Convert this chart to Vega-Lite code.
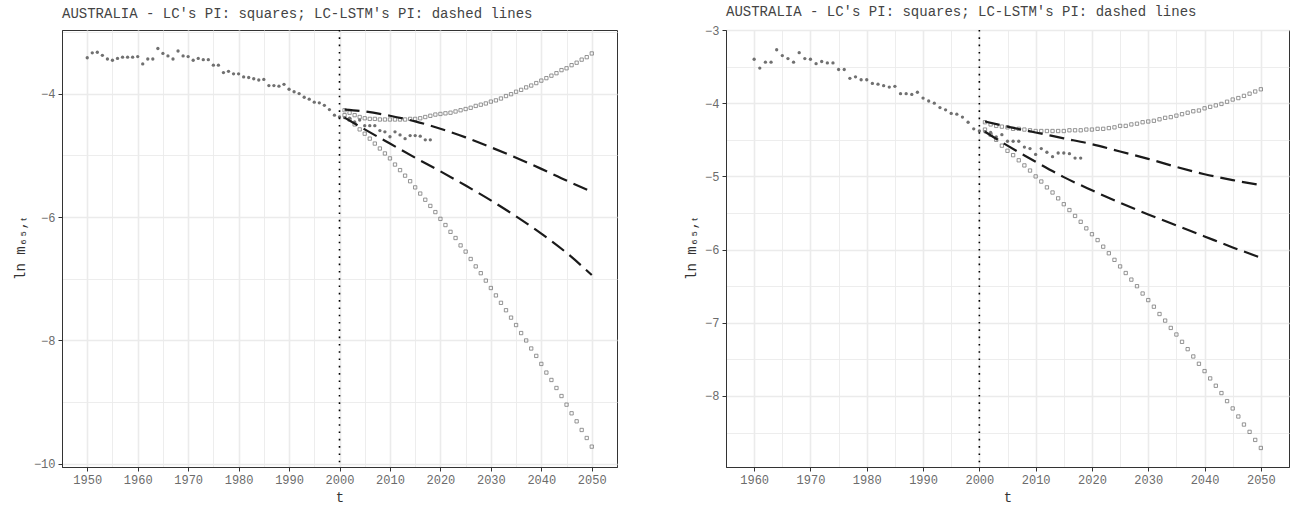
{
  "$schema": "https://vega.github.io/schema/vega-lite/v6.json",
  "background": "white",
  "padding": {"left": 12, "top": 4, "right": 0, "bottom": 0},
  "spacing": 66,
  "resolve": {"scale": {"x": "independent", "y": "independent"}, "axis": {"x": "independent", "y": "independent"}},
  "config": {
    "font": "Liberation Mono",
    "view": {"stroke": "#333333", "strokeWidth": 1},
    "axis": {
      "labelFont": "Liberation Mono", "labelFontSize": 12, "labelColor": "#6b6b6b",
      "titleFont": "Liberation Mono", "titleFontSize": 14, "titleFontWeight": "normal", "titleColor": "#333333",
      "tickColor": "#333333", "tickSize": 4, "labelPadding": 3, "domainColor": "#333333",
      "gridColor": "#EBEBEB", "labelOverlap": false, "labelFlush": false, "tickCount": 100
    },
    "title": {"font": "Liberation Mono", "fontSize": 14, "fontWeight": "normal", "color": "#444444", "anchor": "start", "frame": "group", "offset": 5}
  },
  "datasets": {
    "obs": [
      {"t":1950,"v":-3.42},{"t":1951,"v":-3.34},{"t":1952,"v":-3.33},{"t":1953,"v":-3.38},{"t":1954,"v":-3.44},
      {"t":1955,"v":-3.46},{"t":1956,"v":-3.43},{"t":1957,"v":-3.41},{"t":1958,"v":-3.41},{"t":1959,"v":-3.41},
      {"t":1960,"v":-3.40},{"t":1961,"v":-3.52},{"t":1962,"v":-3.44},{"t":1963,"v":-3.44},{"t":1964,"v":-3.27},
      {"t":1965,"v":-3.35},{"t":1966,"v":-3.39},{"t":1967,"v":-3.44},{"t":1968,"v":-3.31},{"t":1969,"v":-3.39},
      {"t":1970,"v":-3.40},{"t":1971,"v":-3.46},{"t":1972,"v":-3.43},{"t":1973,"v":-3.45},{"t":1974,"v":-3.45},
      {"t":1975,"v":-3.54},{"t":1976,"v":-3.54},{"t":1977,"v":-3.66},{"t":1978,"v":-3.64},{"t":1979,"v":-3.68},
      {"t":1980,"v":-3.68},{"t":1981,"v":-3.73},{"t":1982,"v":-3.74},{"t":1983,"v":-3.76},{"t":1984,"v":-3.78},
      {"t":1985,"v":-3.77},{"t":1986,"v":-3.87},{"t":1987,"v":-3.87},{"t":1988,"v":-3.88},{"t":1989,"v":-3.85},
      {"t":1990,"v":-3.93},{"t":1991,"v":-3.97},{"t":1992,"v":-4.00},{"t":1993,"v":-4.06},{"t":1994,"v":-4.09},
      {"t":1995,"v":-4.14},{"t":1996,"v":-4.15},{"t":1997,"v":-4.19},{"t":1998,"v":-4.26},{"t":1999,"v":-4.35},
      {"t":2000,"v":-4.38},{"t":2001,"v":-4.39},{"t":2002,"v":-4.40},{"t":2003,"v":-4.46},{"t":2004,"v":-4.43},
      {"t":2005,"v":-4.52},{"t":2006,"v":-4.52},{"t":2007,"v":-4.52},{"t":2008,"v":-4.60},{"t":2009,"v":-4.62},
      {"t":2010,"v":-4.70},{"t":2011,"v":-4.62},{"t":2012,"v":-4.67},{"t":2013,"v":-4.73},{"t":2014,"v":-4.68},
      {"t":2015,"v":-4.68},{"t":2016,"v":-4.69},{"t":2017,"v":-4.75},{"t":2018,"v":-4.75}
    ],
    "lcA": [
      {"t":2001,"hi":-4.27,"lo":-4.35},{"t":2002,"hi":-4.31,"lo":-4.42},{"t":2003,"hi":-4.35,"lo":-4.50},
      {"t":2004,"hi":-4.38,"lo":-4.58},{"t":2005,"hi":-4.40,"lo":-4.65},{"t":2006,"hi":-4.41,"lo":-4.73},
      {"t":2007,"hi":-4.41,"lo":-4.81},{"t":2008,"hi":-4.42,"lo":-4.89},{"t":2009,"hi":-4.42,"lo":-4.97},
      {"t":2010,"hi":-4.42,"lo":-5.05},{"t":2011,"hi":-4.42,"lo":-5.15},{"t":2012,"hi":-4.42,"lo":-5.24},
      {"t":2013,"hi":-4.42,"lo":-5.33},{"t":2014,"hi":-4.41,"lo":-5.42},{"t":2015,"hi":-4.41,"lo":-5.52},
      {"t":2016,"hi":-4.40,"lo":-5.62},{"t":2017,"hi":-4.38,"lo":-5.72},{"t":2018,"hi":-4.36,"lo":-5.82},
      {"t":2019,"hi":-4.34,"lo":-5.92},{"t":2020,"hi":-4.33,"lo":-6.03},{"t":2021,"hi":-4.32,"lo":-6.13},
      {"t":2022,"hi":-4.31,"lo":-6.24},{"t":2023,"hi":-4.29,"lo":-6.34},{"t":2024,"hi":-4.27,"lo":-6.46},
      {"t":2025,"hi":-4.25,"lo":-6.56},{"t":2026,"hi":-4.23,"lo":-6.68},{"t":2027,"hi":-4.20,"lo":-6.80},
      {"t":2028,"hi":-4.18,"lo":-6.91},{"t":2029,"hi":-4.16,"lo":-7.03},{"t":2030,"hi":-4.13,"lo":-7.15},
      {"t":2031,"hi":-4.11,"lo":-7.27},{"t":2032,"hi":-4.08,"lo":-7.39},{"t":2033,"hi":-4.04,"lo":-7.51},
      {"t":2034,"hi":-4.01,"lo":-7.63},{"t":2035,"hi":-3.97,"lo":-7.75},{"t":2036,"hi":-3.94,"lo":-7.88},
      {"t":2037,"hi":-3.90,"lo":-8.00},{"t":2038,"hi":-3.87,"lo":-8.13},{"t":2039,"hi":-3.83,"lo":-8.25},
      {"t":2040,"hi":-3.79,"lo":-8.38},{"t":2041,"hi":-3.75,"lo":-8.52},{"t":2042,"hi":-3.71,"lo":-8.64},
      {"t":2043,"hi":-3.67,"lo":-8.77},{"t":2044,"hi":-3.62,"lo":-8.90},{"t":2045,"hi":-3.59,"lo":-9.04},
      {"t":2046,"hi":-3.54,"lo":-9.18},{"t":2047,"hi":-3.50,"lo":-9.31},{"t":2048,"hi":-3.45,"lo":-9.45},
      {"t":2049,"hi":-3.41,"lo":-9.58},{"t":2050,"hi":-3.35,"lo":-9.72}
    ],
    "lcB": [
      {"t":2001,"hi":-4.26,"lo":-4.36},{"t":2002,"hi":-4.29,"lo":-4.43},{"t":2003,"hi":-4.31,"lo":-4.50},
      {"t":2004,"hi":-4.32,"lo":-4.58},{"t":2005,"hi":-4.33,"lo":-4.65},{"t":2006,"hi":-4.35,"lo":-4.71},
      {"t":2007,"hi":-4.35,"lo":-4.78},{"t":2008,"hi":-4.36,"lo":-4.85},{"t":2009,"hi":-4.37,"lo":-4.92},
      {"t":2010,"hi":-4.38,"lo":-5.00},{"t":2011,"hi":-4.38,"lo":-5.07},{"t":2012,"hi":-4.38,"lo":-5.15},
      {"t":2013,"hi":-4.38,"lo":-5.22},{"t":2014,"hi":-4.38,"lo":-5.30},{"t":2015,"hi":-4.38,"lo":-5.38},
      {"t":2016,"hi":-4.37,"lo":-5.46},{"t":2017,"hi":-4.37,"lo":-5.54},{"t":2018,"hi":-4.37,"lo":-5.62},
      {"t":2019,"hi":-4.36,"lo":-5.71},{"t":2020,"hi":-4.36,"lo":-5.79},{"t":2021,"hi":-4.35,"lo":-5.87},
      {"t":2022,"hi":-4.35,"lo":-5.96},{"t":2023,"hi":-4.34,"lo":-6.05},{"t":2024,"hi":-4.33,"lo":-6.14},
      {"t":2025,"hi":-4.31,"lo":-6.23},{"t":2026,"hi":-4.31,"lo":-6.32},{"t":2027,"hi":-4.29,"lo":-6.41},
      {"t":2028,"hi":-4.28,"lo":-6.50},{"t":2029,"hi":-4.26,"lo":-6.60},{"t":2030,"hi":-4.25,"lo":-6.69},
      {"t":2031,"hi":-4.24,"lo":-6.78},{"t":2032,"hi":-4.22,"lo":-6.88},{"t":2033,"hi":-4.20,"lo":-6.97},
      {"t":2034,"hi":-4.19,"lo":-7.07},{"t":2035,"hi":-4.17,"lo":-7.16},{"t":2036,"hi":-4.15,"lo":-7.26},
      {"t":2037,"hi":-4.13,"lo":-7.36},{"t":2038,"hi":-4.11,"lo":-7.46},{"t":2039,"hi":-4.10,"lo":-7.56},
      {"t":2040,"hi":-4.07,"lo":-7.66},{"t":2041,"hi":-4.05,"lo":-7.76},{"t":2042,"hi":-4.03,"lo":-7.86},
      {"t":2043,"hi":-4.01,"lo":-7.96},{"t":2044,"hi":-3.98,"lo":-8.07},{"t":2045,"hi":-3.95,"lo":-8.17},
      {"t":2046,"hi":-3.93,"lo":-8.28},{"t":2047,"hi":-3.90,"lo":-8.39},{"t":2048,"hi":-3.87,"lo":-8.49},
      {"t":2049,"hi":-3.84,"lo":-8.60},{"t":2050,"hi":-3.81,"lo":-8.71}
    ],
    "lstmA": [
      {"t":2001,"hi":-4.26,"lo":-4.39},{"t":2005,"hi":-4.29,"lo":-4.58},{"t":2010,"hi":-4.36,"lo":-4.81},
      {"t":2015,"hi":-4.45,"lo":-5.04},{"t":2020,"hi":-4.57,"lo":-5.26},{"t":2025,"hi":-4.71,"lo":-5.49},
      {"t":2030,"hi":-4.87,"lo":-5.73},{"t":2035,"hi":-5.04,"lo":-5.99},{"t":2040,"hi":-5.22,"lo":-6.27},
      {"t":2045,"hi":-5.41,"lo":-6.58},{"t":2050,"hi":-5.59,"lo":-6.94}
    ],
    "lstmB": [
      {"t":2001,"hi":-4.25,"lo":-4.39},{"t":2005,"hi":-4.32,"lo":-4.58},{"t":2010,"hi":-4.40,"lo":-4.80},
      {"t":2015,"hi":-4.48,"lo":-5.01},{"t":2020,"hi":-4.56,"lo":-5.19},{"t":2025,"hi":-4.66,"lo":-5.36},
      {"t":2030,"hi":-4.76,"lo":-5.52},{"t":2035,"hi":-4.87,"lo":-5.67},{"t":2040,"hi":-4.97,"lo":-5.82},
      {"t":2045,"hi":-5.05,"lo":-5.97},{"t":2050,"hi":-5.12,"lo":-6.11}
    ],
    "vline": [{"t":2000}]
  },
  "hconcat": [
    {
      "title": "AUSTRALIA - LC's PI: squares; LC-LSTM's PI: dashed lines",
      "width": 555,
      "height": 437,
      "encoding": {
        "x": {"field": "t", "type": "quantitative", "title": "t",
          "scale": {"domain": [1945, 2055], "nice": false, "zero": false},
          "axis": {"values": [1950,1955,1960,1965,1970,1975,1980,1985,1990,1995,2000,2005,2010,2015,2020,2025,2030,2035,2040,2045,2050],
            "format": "d", "labelExpr": "datum.value % 10 === 0 ? datum.label : ''",
            "tickOpacity": {"condition": {"test": "datum.value % 10 === 0", "value": 1}, "value": 0},
            "gridWidth": {"condition": {"test": "datum.value % 10 === 0", "value": 1.6}, "value": 0.9},
            "titlePadding": 5}
        }
      },
      "layer": [
        {"data": {"name": "obs"},
         "mark": {"type": "point", "shape": "circle", "filled": true, "size": 11, "color": "#707070", "opacity": 1},
         "encoding": {"y": {"field": "v", "type": "quantitative", "title": "ln m₆₅,ₜ",
           "scale": {"domain": [-10.05, -2.97], "nice": false, "zero": false},
           "axis": {"values": [-10,-9,-8,-7,-6,-5,-4,-3], "format": "d",
             "labelExpr": "datum.value % 2 === 0 ? datum.label : ''",
             "tickOpacity": {"condition": {"test": "datum.value % 2 === 0", "value": 1}, "value": 0},
             "gridWidth": {"condition": {"test": "datum.value % 2 === 0", "value": 1.6}, "value": 0.9},
             "titlePadding": 6}}}},
        {"data": {"name": "lcA"},
         "mark": {"type": "point", "shape": "square", "filled": false, "size": 11, "strokeWidth": 0.8, "color": "#7a7a7a", "opacity": 1},
         "encoding": {"y": {"field": "hi", "type": "quantitative"}}},
        {"data": {"name": "lcA"},
         "mark": {"type": "point", "shape": "square", "filled": false, "size": 11, "strokeWidth": 0.8, "color": "#7a7a7a", "opacity": 1},
         "encoding": {"y": {"field": "lo", "type": "quantitative"}}},
        {"data": {"name": "lstmA"},
         "mark": {"type": "line", "interpolate": "monotone", "color": "#1a1a1a", "strokeWidth": 2.2, "strokeDash": [15, 7]},
         "encoding": {"y": {"field": "hi", "type": "quantitative"}}},
        {"data": {"name": "lstmA"},
         "mark": {"type": "line", "interpolate": "monotone", "color": "#1a1a1a", "strokeWidth": 2.2, "strokeDash": [15, 7]},
         "encoding": {"y": {"field": "lo", "type": "quantitative"}}},
        {"data": {"name": "vline"},
         "mark": {"type": "rule", "color": "#000000", "strokeWidth": 1.6, "strokeDash": [1.6, 5.7]},
         "encoding": {}}
      ]
    },
    {
      "title": "AUSTRALIA - LC's PI: squares; LC-LSTM's PI: dashed lines",
      "width": 563,
      "height": 437,
      "encoding": {
        "x": {"field": "t", "type": "quantitative", "title": "t",
          "scale": {"domain": [1955, 2055], "nice": false, "zero": false},
          "axis": {"values": [1960,1965,1970,1975,1980,1985,1990,1995,2000,2005,2010,2015,2020,2025,2030,2035,2040,2045,2050],
            "format": "d", "labelExpr": "datum.value % 10 === 0 ? datum.label : ''",
            "tickOpacity": {"condition": {"test": "datum.value % 10 === 0", "value": 1}, "value": 0},
            "gridWidth": {"condition": {"test": "datum.value % 10 === 0", "value": 1.6}, "value": 0.9},
            "titlePadding": 5}
        }
      },
      "layer": [
        {"data": {"name": "obs"},
         "transform": [{"filter": "datum.t >= 1960"}],
         "mark": {"type": "point", "shape": "circle", "filled": true, "size": 11, "color": "#707070", "opacity": 1},
         "encoding": {"y": {"field": "v", "type": "quantitative", "title": "ln m₆₅,ₜ",
           "scale": {"domain": [-8.97, -3.0], "nice": false, "zero": false},
           "axis": {"values": [-8.5,-8,-7.5,-7,-6.5,-6,-5.5,-5,-4.5,-4,-3.5,-3],
             "labelExpr": "abs(datum.value - round(datum.value)) < 0.01 ? format(datum.value, 'd') : ''",
             "tickOpacity": {"condition": {"test": "abs(datum.value - round(datum.value)) < 0.01", "value": 1}, "value": 0},
             "gridWidth": {"condition": {"test": "abs(datum.value - round(datum.value)) < 0.01", "value": 1.6}, "value": 0.9},
             "titlePadding": 6}}}},
        {"data": {"name": "lcB"},
         "mark": {"type": "point", "shape": "square", "filled": false, "size": 11, "strokeWidth": 0.8, "color": "#7a7a7a", "opacity": 1},
         "encoding": {"y": {"field": "hi", "type": "quantitative"}}},
        {"data": {"name": "lcB"},
         "mark": {"type": "point", "shape": "square", "filled": false, "size": 11, "strokeWidth": 0.8, "color": "#7a7a7a", "opacity": 1},
         "encoding": {"y": {"field": "lo", "type": "quantitative"}}},
        {"data": {"name": "lstmB"},
         "mark": {"type": "line", "interpolate": "monotone", "color": "#1a1a1a", "strokeWidth": 2.2, "strokeDash": [15, 7]},
         "encoding": {"y": {"field": "hi", "type": "quantitative"}}},
        {"data": {"name": "lstmB"},
         "mark": {"type": "line", "interpolate": "monotone", "color": "#1a1a1a", "strokeWidth": 2.2, "strokeDash": [15, 7]},
         "encoding": {"y": {"field": "lo", "type": "quantitative"}}},
        {"data": {"name": "vline"},
         "mark": {"type": "rule", "color": "#000000", "strokeWidth": 1.6, "strokeDash": [1.6, 5.7]},
         "encoding": {}}
      ]
    }
  ]
}
